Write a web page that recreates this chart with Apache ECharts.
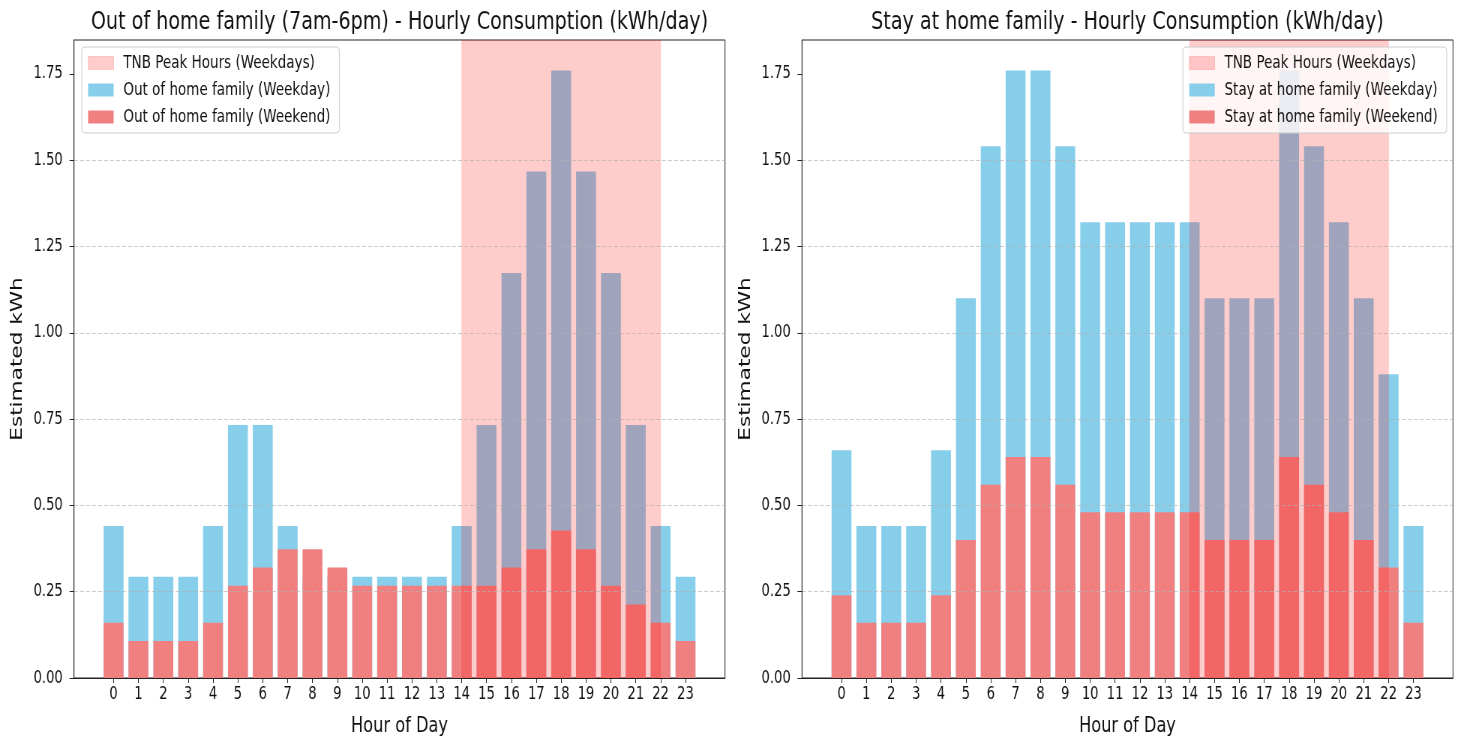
<!DOCTYPE html>
<html>
<head>
<meta charset="utf-8">
<title>Hourly Consumption</title>
<script src="https://cdn.jsdelivr.net/npm/echarts@6/dist/echarts.min.js"></script>
<style>
  html, body { margin: 0; padding: 0; background: #fff; overflow: hidden; }
  /* the reference is squeezed horizontally, so draw wide and scale down */
  #chart { width: 1949px; height: 737px; transform: scaleX(0.75); transform-origin: 0 0; }
</style>
</head>
<body>
<div id="chart"></div>
<script>
// hour of day
const hours = [0, 1, 2, 3, 4, 5, 6, 7, 8, 9, 10, 11, 12, 13, 14, 15, 16, 17, 18, 19, 20, 21, 22, 23];

// Out of home family (7am-6pm), kWh
const outWeekday = [0.44, 0.293, 0.293, 0.293, 0.44, 0.733, 0.733, 0.44, 0.293, 0.293, 0.293, 0.293,
  0.293, 0.293, 0.44, 0.733, 1.173, 1.467, 1.76, 1.467, 1.173, 0.733, 0.44, 0.293];
const outWeekend = [0.16, 0.107, 0.107, 0.107, 0.16, 0.267, 0.32, 0.373, 0.373, 0.32, 0.267, 0.267,
  0.267, 0.267, 0.267, 0.267, 0.32, 0.373, 0.427, 0.373, 0.267, 0.213, 0.16, 0.107];

// Stay at home family, kWh
const homeWeekday = [0.66, 0.44, 0.44, 0.44, 0.66, 1.10, 1.54, 1.76, 1.76, 1.54, 1.32, 1.32,
  1.32, 1.32, 1.32, 1.10, 1.10, 1.10, 1.76, 1.54, 1.32, 1.10, 0.88, 0.44];
const homeWeekend = [0.24, 0.16, 0.16, 0.16, 0.24, 0.40, 0.56, 0.64, 0.64, 0.56, 0.48, 0.48,
  0.48, 0.48, 0.48, 0.40, 0.40, 0.40, 0.64, 0.56, 0.48, 0.40, 0.32, 0.16];

// TNB peak window (weekdays)
const peakHours = [14, 22];

// y ticks
const yTicks = [0, 0.25, 0.5, 0.75, 1.0, 1.25, 1.5, 1.75];

const FONT = 'DejaVu Sans';
const TEXT = '#111';
const PEAK_NAME = 'TNB Peak Hours (Weekdays)';

const xMin = -1.59, xMax = 24.59, yMax = 1.848;
const gridW = 868, gridH = 638;
const barW = 0.8 * gridW / (xMax - xMin);

const panels = [
  { title: 'Out of home family (7am-6pm) - Hourly Consumption (kWh/day)', name: 'Out of home family',
    weekday: outWeekday, weekend: outWeekend, left: 98.7, legend: { left: 109, top: 47 } },
  { title: 'Stay at home family - Hourly Consumption (kWh/day)', name: 'Stay at home family',
    weekday: homeWeekday, weekend: homeWeekend, left: 1069.3, legend: { right: 20, top: 47 } }
];

const chart = echarts.init(document.getElementById('chart'));

const option = {
  animation: false,
  backgroundColor: '#fff',
  textStyle: { fontFamily: FONT, color: TEXT },
  title: [], grid: [], xAxis: [], yAxis: [], legend: [], series: []
};

panels.forEach((p, i) => {
  option.title.push({
    text: p.title,
    left: p.left + gridW / 2,
    top: 9,
    padding: 0,
    textAlign: 'center',
    textStyle: { fontFamily: FONT, fontSize: 25.5, fontWeight: 'normal', color: TEXT }
  });
  option.grid.push({
    left: p.left, top: 40, width: gridW, height: gridH,
    outerBoundsMode: 'none', containLabel: false,
    show: true, borderColor: '#222', borderWidth: 1, backgroundColor: 'transparent'
  });
  option.xAxis.push({
    type: 'value', gridIndex: i, min: xMin, max: xMax, z: 4,
    name: 'Hour of Day', nameLocation: 'middle', nameGap: 37,
    nameTextStyle: { fontFamily: FONT, fontSize: 21.6, color: TEXT },
    axisLine: { show: true, onZero: false, lineStyle: { color: '#222', width: 1 } },
    axisTick: { show: true, length: 5, customValues: hours, lineStyle: { color: '#222' } },
    axisLabel: { customValues: hours, margin: 7, fontSize: 17.5, color: TEXT, fontFamily: FONT },
    splitLine: { show: false }
  });
  option.yAxis.push({
    type: 'value', gridIndex: i, min: 0, max: yMax, interval: 0.25, z: 4,
    name: 'Estimated kWh', nameLocation: 'middle', nameGap: 64, nameRotate: 90,
    nameTextStyle: { fontFamily: FONT, fontSize: 21.6, color: TEXT },
    axisLine: { show: true, onZero: false, lineStyle: { color: '#222', width: 1 } },
    axisTick: { show: true, length: 6, customValues: yTicks, lineStyle: { color: '#222' } },
    axisLabel: { customValues: yTicks, margin: 15, fontSize: 17.5, color: TEXT, fontFamily: FONT,
      formatter: v => v.toFixed(2) },
    splitLine: { show: true, showMinLine: false, showMaxLine: false,
      lineStyle: { color: 'rgba(176,176,176,0.7)', width: 1, type: [5, 3] } }
  });
  option.legend.push(Object.assign({
    orient: 'vertical', z: 6, icon: 'rect',
    itemWidth: 34, itemHeight: 13, itemGap: 9,
    padding: [7, 12, 7, 8],
    backgroundColor: 'rgba(255,255,255,0.8)', borderColor: '#ccc', borderWidth: 1, borderRadius: 4,
    textStyle: { fontFamily: FONT, fontSize: 18, lineHeight: 18, color: TEXT, padding: [0, 0, 0, 8] },
    data: [
      { name: PEAK_NAME, itemStyle: { color: 'rgba(255,0,0,0.2)', borderColor: 'rgba(255,0,0,0.15)', borderWidth: 1 } },
      p.name + ' (Weekday)',
      p.name + ' (Weekend)'
    ]
  }, p.legend));

  option.series.push({
    name: p.name + ' (Weekday)', type: 'bar', xAxisIndex: i, yAxisIndex: i, z: 2,
    barWidth: barW, barGap: '-100%',
    itemStyle: { color: '#87CEEB' },
    data: hours.map((h, k) => [h, p.weekday[k]])
  });
  option.series.push({
    name: p.name + ' (Weekend)', type: 'bar', xAxisIndex: i, yAxisIndex: i, z: 2,
    barWidth: barW, barGap: '-100%',
    itemStyle: { color: '#F08080' },
    data: hours.map((h, k) => [h, p.weekend[k]])
  });
  // peak window drawn over the bars
  option.series.push({
    name: PEAK_NAME, type: 'line', xAxisIndex: i, yAxisIndex: i, z: 3,
    data: [],
    itemStyle: { color: 'rgba(255,0,0,0.2)' },
    lineStyle: { color: 'rgba(255,0,0,0.2)' },
    markArea: {
      silent: true, z: 3,
      itemStyle: { color: 'rgba(255,0,0,0.2)', borderColor: 'rgba(255,0,0,0.1)', borderWidth: 1 },
      data: [[{ xAxis: peakHours[0] }, { xAxis: peakHours[1] }]]
    }
  });
});

chart.setOption(option);
</script>
</body>
</html>
